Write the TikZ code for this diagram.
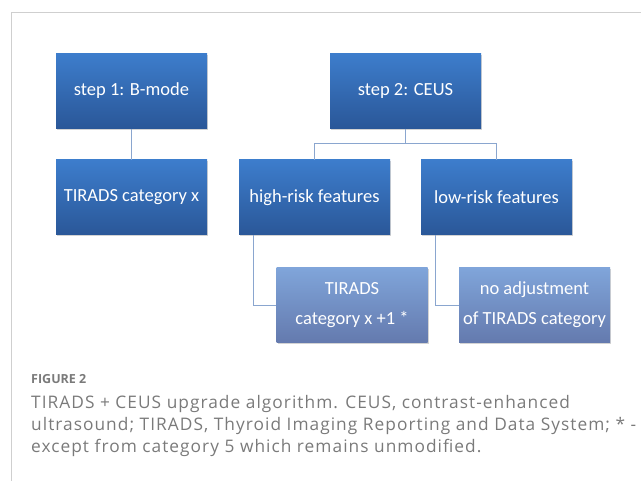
\documentclass[tikz,border=0pt]{standalone}
\usepackage{fontspec}
\setmainfont{Open Sans}
\newfontfamily\boxfont{Carlito}
\newfontfamily\capfont[LetterSpace=6]{Open Sans}
\usepackage{tikz}
\usetikzlibrary{calc,positioning,shadows}
\definecolor{deep}{HTML}{3D7DCC}
\definecolor{deeplow}{HTML}{2A5798}
\definecolor{pale}{HTML}{80A5DA}
\definecolor{palelow}{HTML}{647AAE}
\definecolor{wire}{HTML}{8AA6CF}
\definecolor{rim}{HTML}{CFCFCF}
\definecolor{note}{HTML}{7A7A7A}

\begin{document}
\begin{tikzpicture}[x=1pt,y=-1pt,
    card/.style={rectangle,minimum width=151pt,minimum height=75pt,inner sep=0pt,
      text=white,align=center,font=\boxfont\fontsize{18.5}{30}\selectfont,
      drop shadow={opacity=0.35,shadow xshift=1pt,shadow yshift=-1.5pt}},
    darkcard/.style={card,top color=deep,bottom color=deeplow},
    lightcard/.style={card,top color=pale,bottom color=palelow},
    link/.style={wire,line width=0.9pt}]
        \useasboundingbox (0,0) rectangle (641,481);
        \draw[rim,line width=1pt] (641,13) -- (11,13) -- (11,481);
        % steps
        \node[darkcard] (bmode) at (131.5,91) {step 1: B-mode};
        \node[darkcard] (ceus) at (405.5,91) {step 2: CEUS};
        \node[darkcard] (catx) at (131.5,197.5) {TIRADS category x};
        \node[darkcard] (high) at (314.5,197.5) {high-risk features};
        \node[darkcard] (low) at (496.5,197.5) {low-risk features};
        \node[lightcard] (upgrade) at (352,305) {TIRADS\\category x +1 *};
        \node[lightcard] (keep) at (534.5,305) {no adjustment\\of TIRADS category};
        \draw[link] (bmode) -- (catx);
        \draw[link] (ceus.south) -- ++(0,15) coordinate (fork);
        \draw[link] (high.north) |- (fork) -| (low.north);
        \draw[link] ([xshift=15pt]high.south west) |- (upgrade.west);
        \draw[link] ([xshift=15pt]low.south west) |- (keep.west);
        % caption
        \node[anchor=base west,inner sep=0pt,text=note,font=\fontsize{12.5}{16}\selectfont\bfseries] (fig) at (31,384) {FIGURE 2};
        \node[anchor=base west,inner sep=0pt,text=note,align=left,font=\capfont\fontsize{17.3}{22}\selectfont] (cap) at (31,453)
          {TIRADS + CEUS upgrade algorithm. CEUS, contrast-enhanced\\
           ultrasound; TIRADS, Thyroid Imaging Reporting and Data System; * -\\
           except from category 5 which remains unmodified.};
      \end{tikzpicture}
\end{document}
